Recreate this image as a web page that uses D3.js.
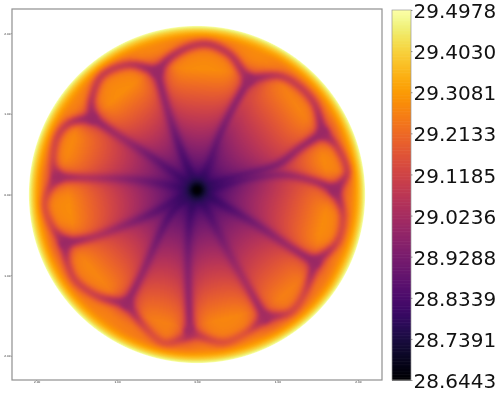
<!DOCTYPE html>
<html><head><meta charset="utf-8">
<script src="https://cdn.jsdelivr.net/npm/d3@7/dist/d3.min.js"></script>
<style>html,body{margin:0;padding:0;background:#fff;overflow:hidden}#c{position:absolute;left:0;top:0}svg{position:absolute;left:0;top:0}</style>
</head><body>
<canvas id="c" width="498" height="394"></canvas>
<svg id="s" width="498" height="394"></svg>
<script>
// --- data (domain units) ---
const axisTicks = [-2, -1, 0, 1, 2];
const colorbarTicks = [28.6443, 28.7391, 28.8339, 28.9288, 29.0236, 29.1185, 29.2133, 29.3081, 29.4030, 29.4978];
const discRadius = 2.09;
const coreCentre = [0, 0.056];
const coreValue = 28.6443;
const coreSpread = 0.095;
const centreValue = 28.80;
const rimEdgeValue = 29.4978;
const rimReach = 0.2;
const lobeSeeds = [[.1,1.547],[1.317,.988],[1.565,.453],[1.565,-.342],[1.118,-1.211],[.373,-1.534],[-.422,-1.584],[-1.242,-1.0],[-1.578,-.168],[-1.578,.578],[-.957,1.236]];
const lobePeaks = [29.28,29.27,29.28,29.28,29.26,29.27,29.26,29.27,29.28,29.28,29.28];
const valleyWidth = 0.066;
const valleyHalo = 0.15;
const ringValleys = [
 [[-.497,1.522,29.0],[-.335,1.696,29.06],[-.087,1.832,29.09],[.161,1.857,29.09],[.41,1.733,29.09],[.571,1.522,29.06],[.646,1.422,29.0]],
 [[.646,1.422,29.0],[.994,1.472,29.09],[1.242,1.36,29.11],[1.466,1.112,29.09],[1.565,.764,29.0]],
 [[1.565,.764,29.0],[1.739,.59,29.11],[1.863,.28,29.11],[1.714,.056,29.0]],
 [[1.714,.056,29.0],[1.814,-.255,29.13],[1.739,-.59,29.13],[1.466,-.839,29.0]],
 [[1.466,-.839,29.0],[1.342,-1.211,29.13],[1.155,-1.46,29.13],[.845,-1.522,29.02]],
 [[.845,-1.522,29.02],[.621,-1.708,29.16],[.323,-1.832,29.16],[0,-1.745,29.11],[-.087,-1.708,29.02]],
 [[-.087,-1.708,29.02],[-.174,-1.783,29.11],[-.422,-1.832,29.16],[-.671,-1.621,29.13],[-.87,-1.348,29.0]],
 [[-.87,-1.348,29.0],[-1.205,-1.273,29.11],[-1.491,-1.087,29.13],[-1.615,-.839,29.11],[-1.64,-.602,29.0]],
 [[-1.64,-.602,29.0],[-1.789,-.416,29.13],[-1.888,-.168,29.16],[-1.851,.031,29.13],[-1.739,.217,29.02]],
 [[-1.739,.217,29.02],[-1.789,.404,29.13],[-1.739,.702,29.13],[-1.578,.888,29.09],[-1.304,.95,29.0]],
 [[-1.304,.95,29.0],[-1.304,1.199,29.09],[-1.168,1.484,29.11],[-.832,1.609,29.09],[-.497,1.522,29.0]]
];
const rayValleys = [
 [[.646,1.422,29.0],[.447,1.075,28.98],[.286,.739,28.92],[.161,.404,28.85],[0,.056,28.76]],
 [[1.565,.764,29.0],[1.28,.578,29.02],[.994,.366,28.96],[.621,.242,28.88],[.323,.155,28.82],[0,.056,28.76]],
 [[1.714,.056,29.0],[1.441,.168,29.05],[1.068,.242,29.0],[.621,.205,28.91],[.323,.13,28.83],[0,.056,28.76]],
 [[1.466,-.839,29.0],[1.155,-.652,29.02],[.745,-.379,28.94],[.323,-.13,28.83],[0,.056,28.76]],
 [[.845,-1.522,29.02],[.621,-1.124,29.04],[.41,-.752,28.98],[.199,-.342,28.87],[0,.056,28.76]],
 [[-.087,-1.708,29.02],[-.112,-.913,28.96],[-.087,-.292,28.83],[0,.056,28.76]],
 [[-.87,-1.348,29.0],[-.671,-.963,29.0],[-.422,-.416,28.89],[-.248,-.13,28.81],[0,.056,28.76]],
 [[-1.64,-.602,29.0],[-1.292,-.528,29.06],[-.957,-.404,29.0],[-.547,-.23,28.89],[0,.056,28.76]],
 [[-1.739,.217,29.02],[-1.366,.205,29.06],[-.745,.18,28.94],[0,.056,28.76]],
 [[-1.304,.95,29.0],[-.957,.714,29.02],[-.547,.453,28.91],[0,.056,28.76]],
 [[-.497,1.522,29.0],[-.373,1.075,28.99],[-.211,.578,28.87],[0,.056,28.76]]
];

// --- scales ---
const frame = {l:12, r:382, t:9, b:380};
const x = d3.scaleLinear().domain([-2.3,2.3]).range([frame.l,frame.r]);
const y = d3.scaleLinear().domain([-2.3,2.3]).range([frame.b,frame.t]);
const vmin = colorbarTicks[0], vmax = colorbarTicks[colorbarTicks.length-1];
const color = d3.scaleSequential(d3.interpolateInferno).domain([vmin,vmax]);

// --- field ---
const cr=(p0,p1,p2,p3,t)=>0.5*(2*p1+(p2-p0)*t+(2*p0-5*p1+4*p2-p3)*t*t+(3*p1-p0-3*p2+p3)*t*t*t);
function smooth(line){
  const out=[],n=line.length,sub=5;
  for(let i=0;i<n-1;i++){
    const a=line[Math.max(0,i-1)],b=line[i],c=line[i+1],d=line[Math.min(n-1,i+2)];
    for(let k=0;k<sub;k++){const t=k/sub;out.push([0,1,2].map(q=>cr(a[q],b[q],c[q],d[q],t)));}
  }
  out.push(line[n-1]);
  return out;
}
const lines = ringValleys.concat(rayValleys).map(line => d3.pairs(smooth(line)).map(([a,b]) => {
  const dx=b[0]-a[0], dy=b[1]-a[1];
  return {ax:a[0],ay:a[1],av:a[2],bv:b[2],dx,dy,l2:dx*dx+dy*dy||1e-9};
}));
const lobeGeom = lobeSeeds.map(s=>{
  const ax=coreCentre[0]-s[0], ay=coreCentre[1]-s[1];
  return {sx:s[0],sy:s[1],ax,ay,L2:ax*ax+ay*ay,ang:Math.atan2(-ay,-ax)};
});
function base(px,py){
  const ang = Math.atan2(py-coreCentre[1],px-coreCentre[0]);
  let sw=0, sv=0;
  lobeGeom.forEach((s,i)=>{
    let t=((px-s.sx)*s.ax+(py-s.sy)*s.ay)/s.L2;
    t=Math.max(0,t);
    let da=Math.abs(ang-s.ang); if(da>Math.PI) da=2*Math.PI-da;
    const w=Math.exp(-(da*da)/(0.2*0.2));
    const val=centreValue+(lobePeaks[i]-centreValue)*(1-Math.min(1,t));
    sw+=w; sv+=w*val;
  });
  return sv/sw;
}
function field(px,py){
  let keep=1,sg=0,sgv=0;
  for(const line of lines){
    let best=1e9,bv=0;
    for(const s of line){
      let t=((px-s.ax)*s.dx+(py-s.ay)*s.dy)/s.l2; t=t<0?0:t>1?1:t;
      const qx=s.ax+t*s.dx-px,qy=s.ay+t*s.dy-py,d2=qx*qx+qy*qy;
      if(d2<best){best=d2;bv=s.av+t*(s.bv-s.av);}
    }
    const g=0.78*Math.exp(-best/(valleyWidth*valleyWidth))+0.22*Math.exp(-best/(valleyHalo*valleyHalo));
    keep*=1-g; sg+=g; sgv+=g*bv;
  }
  let v=base(px,py);
  if(sg>1e-6){ const bv=sgv/sg; v=v+(Math.min(bv,v)-v)*(1-keep); }
  const rc=(px-coreCentre[0])**2+(py-coreCentre[1])**2;
  v=v+(coreValue-v)*Math.exp(-rc/(coreSpread*coreSpread));
  const e=discRadius-Math.hypot(px,py);
  if(e<rimReach){ const w=1-Math.max(0,e)/rimReach; v=v+(rimEdgeValue-v)*w*w; }
  return v;
}

// --- heatmap ---
const ctx=document.getElementById('c').getContext('2d');
const img=ctx.createImageData(frame.r-frame.l,frame.b-frame.t);
for(let j=0;j<img.height;j++)for(let i=0;i<img.width;i++){
  const px=x.invert(frame.l+i+.5),py=y.invert(frame.t+j+.5);
  const edge=(discRadius-Math.hypot(px,py))*Math.abs(x(1)-x(0));
  const k=(j*img.width+i)*4;
  if(edge<-0.5){img.data[k+3]=0;continue;}
  const c=d3.rgb(color(field(px,py)));
  img.data[k]=c.r;img.data[k+1]=c.g;img.data[k+2]=c.b;
  img.data[k+3]=255*Math.min(1,edge+0.5);
}
ctx.putImageData(img,frame.l,frame.t);

// --- axes ---
const svg=d3.select('#s');
const fmt=d3.format('.2f');
const fixDash=s=>s.replace('\u2212','-');
const ax=svg.append('g').attr('transform',`translate(0,${frame.b})`).call(d3.axisBottom(x).tickValues(axisTicks).tickFormat(d=>fixDash(fmt(d))).tickSize(1).tickPadding(0.5));
const ay=svg.append('g').attr('transform',`translate(${frame.l},0)`).call(d3.axisLeft(y).tickValues(axisTicks).tickFormat(d=>fixDash(fmt(d))).tickSize(1).tickPadding(0.5));
[ax,ay].forEach(g=>{g.selectAll('text').attr('font-family','DejaVu Sans').attr('font-size',2.8).attr('fill','#222');
  g.selectAll('.tick line').attr('stroke','#444').attr('stroke-width',.5);
  g.select('.domain').attr('stroke','none');});
svg.append('rect').attr('x',frame.l).attr('y',frame.t).attr('width',frame.r-frame.l).attr('height',frame.b-frame.t)
  .attr('fill','none').attr('stroke','#8f8f8f').attr('stroke-width',1.2);

// --- colour bar ---
const bar={l:392,r:411,t:10,b:380};
const cy=d3.scaleLinear().domain([vmin,vmax]).range([bar.b,bar.t]);
const steps=d3.range(256).map(i=>vmin+(vmax-vmin)*i/256);
const stepH=(vmax-vmin)/256;
svg.append('g').selectAll('rect').data(steps).join('rect')
  .attr('x',bar.l).attr('width',bar.r-bar.l)
  .attr('y',d=>cy(d+stepH)).attr('height',d=>cy(d)-cy(d+stepH)+.6)
  .attr('fill',d=>color(d+stepH/2));
svg.append('rect').attr('x',bar.l).attr('y',bar.t).attr('width',bar.r-bar.l).attr('height',bar.b-bar.t)
  .attr('fill','none').attr('stroke','#999').attr('stroke-width',.7);
const cb=svg.append('g').attr('transform',`translate(${bar.r},0)`).call(d3.axisRight(cy).tickValues(colorbarTicks).tickFormat(d3.format('.4f')).tickSize(1.5).tickPadding(1));
cb.select('.domain').attr('stroke','none');
cb.selectAll('.tick line').attr('stroke','#555').attr('stroke-width',.6);
cb.selectAll('text').attr('font-family','DejaVu Sans').attr('font-size',20).attr('fill','#111').attr('dy','.38em');
</script>
</body></html>
